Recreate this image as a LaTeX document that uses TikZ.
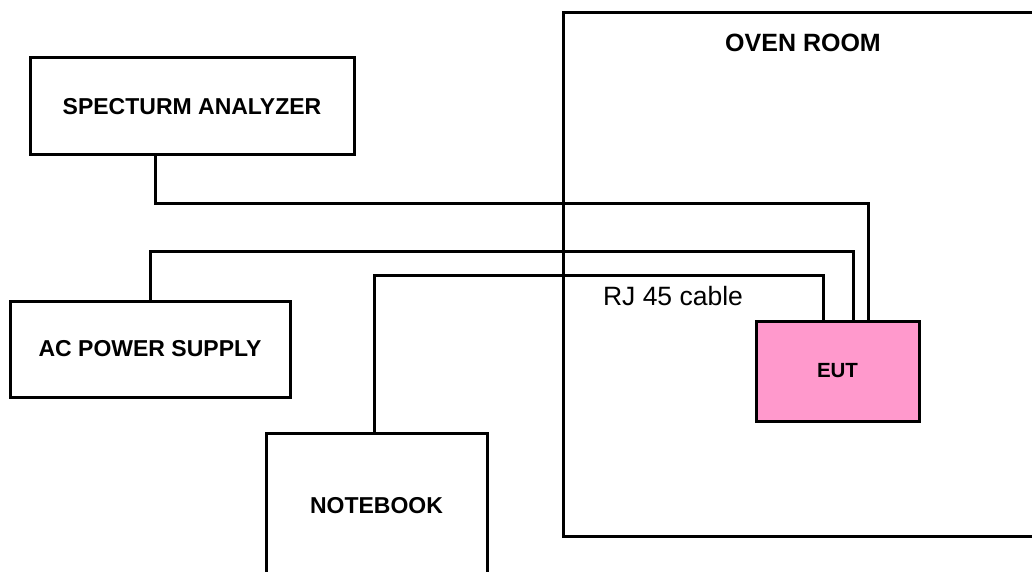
\documentclass[tikz,border=0pt]{standalone}
\usepackage{fontspec}
\setmainfont{Liberation Sans}
\usetikzlibrary{positioning,calc}

\definecolor{eutpink}{HTML}{FF99CC}

\begin{document}
\begin{tikzpicture}[
        x=1pt, y=-1pt,
        line width=3pt,
        boxtag/.style={align=center, font=\fontsize{23}{23}\selectfont\bfseries},
        box/.style={draw, inner sep=0pt, boxtag},
        cable/.style={draw, line join=miter}
      ]

      \useasboundingbox (0,0) rectangle (1032,572);
      \clip (0,0) rectangle (1032,572);

      \node (ROOM) at(804, 274.5) [box, minimum width=482, minimum height=523] {};
      \node (ROOMTAG) at(803, 43) [boxtag, font=\fontsize{25}{25}\selectfont\bfseries] {OVEN ROOM};

      \node (SA) at(192, 106.5) [box, minimum width=324, minimum height=97] {SPECTURM ANALYZER};
      \node (AC) at(150, 349) [box, minimum width=280, minimum height=96] {AC POWER SUPPLY};
      \node (NB) at(376.5, 506) [box, minimum width=221, minimum height=146] {NOTEBOOK};
      \node (EUT) at(837.5, 371) [box, fill=eutpink, minimum width=163, minimum height=100,
        font=\fontsize{20.5}{20.5}\selectfont\bfseries] {EUT};

      \path[cable]
        ([xshift=-37pt]SA.south) |- ([xshift=30.5pt, yshift=116pt]EUT.north) -- ([xshift=30.5pt]EUT.north)
        (AC.north) |- ([xshift=15.5pt, yshift=68pt]EUT.north) -- ([xshift=15.5pt]EUT.north)
        ([xshift=-2.5pt]NB.north) |- ([xshift=-14.5pt, yshift=44pt]EUT.north) -- ([xshift=-14.5pt]EUT.north);

      \node (RJ) at(673, 296) [font=\fontsize{26.5}{26.5}\selectfont] {RJ 45 cable};
    \end{tikzpicture}
\end{document}
